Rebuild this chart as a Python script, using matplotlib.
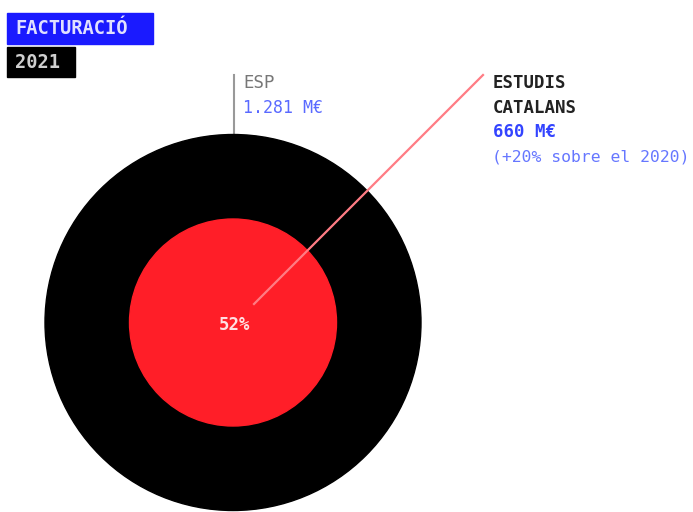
import matplotlib.pyplot as plt
from matplotlib.patches import Circle, Rectangle

# dades
title = "FACTURACIÓ"
year = "2021"
total_label = "ESP"
total_value = 1281  # M€
part_label = ["ESTUDIS", "CATALANS"]
part_value = 660  # M€
part_note = "(+20% sobre el 2020)"
share = round(100 * part_value / total_value)

fig = plt.figure(figsize=(6.93, 5.12), dpi=100)
ax = fig.add_axes([0, 0, 1, 1])
ax.set_xlim(0, 693)
ax.set_ylim(512, 0)
ax.set_aspect("equal")
ax.axis("off")

mono = "DejaVu Sans Mono"

# cercles
cx, cy = 233, 322.5
r_max = 188
r_part = r_max * (part_value / total_value) ** 0.9
ax.add_patch(Circle((cx, cy), r_max, color="black", zorder=1))
ax.add_patch(Circle((cx, cy), r_part, color="#ff1e28", zorder=2))

# capçalera
ax.add_patch(Rectangle((7, 13), 146, 31, color="#1a1aff", zorder=3))
ax.text(15, 29, title, color="#e0e0ff", fontsize=13.5, family=mono,
        fontweight="bold", va="center", ha="left", zorder=4)
ax.add_patch(Rectangle((7, 47), 68, 30, color="black", zorder=3))
ax.text(15, 62, year, color="#cfcfcf", fontsize=13.5, family=mono,
        fontweight="bold", va="center", ha="left", zorder=4)

# total
ax.plot([234, 234], [75, cy - r_max], color="#999999", lw=1.5, zorder=0)
ax.text(243, 83, total_label, color="#777777", fontsize=12.5, family=mono,
        va="center", ha="left")
ax.text(243, 108, f"{total_value:,} M€".replace(",", "."),
        color="#5a6aff", fontsize=12, family=mono, va="center", ha="left")

# part
ax.plot([254, 483], [304, 75], color="#ff7c84", lw=1.6, zorder=5)
ax.text(493, 83, part_label[0], color="#222222", fontsize=12.5, family=mono,
        fontweight="bold", va="center", ha="left")
ax.text(493, 108, part_label[1], color="#222222", fontsize=12.5, family=mono,
        fontweight="bold", va="center", ha="left")
ax.text(493, 132, f"{part_value} M€", color="#3344ff", fontsize=12.5, family=mono,
        fontweight="bold", va="center", ha="left")
ax.text(492, 157, part_note, color="#6677ff", fontsize=11.8, family=mono,
        va="center", ha="left")

ax.text(235, 325, f"{share}%", color="#ffdfe2", fontsize=12.5, family=mono,
        fontweight="bold", va="center", ha="center", zorder=6)

fig.savefig("out.png", dpi=100)
